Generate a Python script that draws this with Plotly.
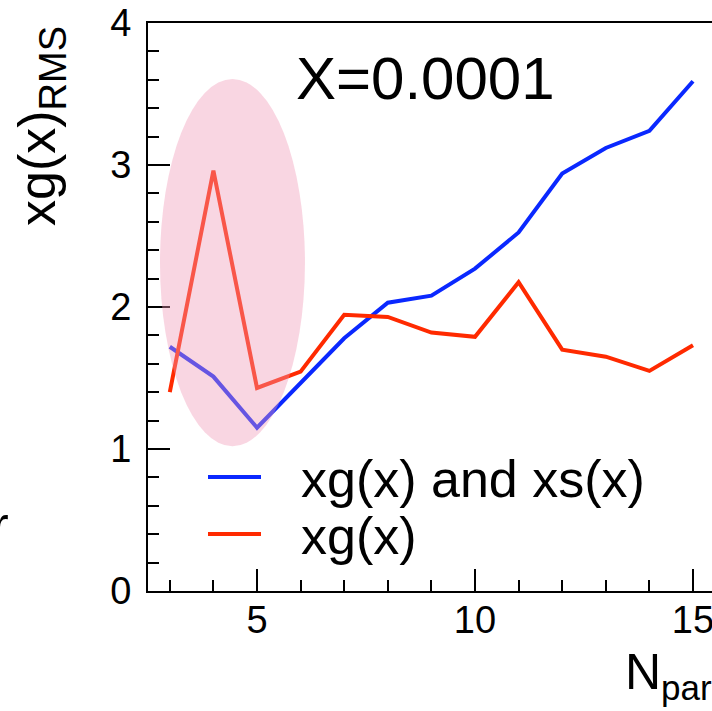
import plotly.graph_objects as go

# ---- data ----
n_param = [3, 4, 5, 6, 7, 8, 9, 10, 11, 12, 13, 14, 15]
xg_and_xs = [1.72, 1.51, 1.15, 1.47, 1.78, 2.03, 2.08, 2.27, 2.525, 2.94, 3.12, 3.24, 3.59]
xg_only = [1.40, 2.96, 1.43, 1.545, 1.945, 1.93, 1.82, 1.79, 2.175, 1.70, 1.65, 1.55, 1.73]
series_names = ["xg(x) and xs(x)", "xg(x)"]
x_tick_vals = [5, 10, 15]
y_tick_vals = [0, 1, 2, 3, 4]

BLUE = "#0a28ff"
RED = "#ff2a00"
FONT = "Liberation Sans"

W, H = 712, 711
L, R, T, B = 148, 0, 23, 120
PW, PH = W - L - R, H - T - B


def fx(px):  # page pixel -> paper
    return (px - L) / PW


def fy(py):
    return (H - B - py) / PH


fig = go.Figure()
fig.add_trace(go.Scatter(x=n_param, y=xg_and_xs, mode="lines", name=series_names[0],
                         line=dict(color=BLUE, width=4), showlegend=False))
fig.add_trace(go.Scatter(x=n_param, y=xg_only, mode="lines", name=series_names[1],
                         line=dict(color=RED, width=4), showlegend=False))

# highlight ellipse
fig.add_shape(type="circle", xref="x", yref="y", x0=2.775, x1=6.10, y0=1.02, y1=3.605,
              fillcolor="rgb(240,152,182)", opacity=0.4, line=dict(width=0), layer="above")

# legend (manual, ROOT-style)
for i, (name, col) in enumerate(zip(series_names, [BLUE, RED])):
    py = 477 + 57 * i
    fig.add_shape(type="line", xref="paper", yref="paper", x0=fx(208), x1=fx(261),
                  y0=fy(py), y1=fy(py), line=dict(color=col, width=4))
    fig.add_annotation(text=name, xref="paper", yref="paper", x=fx(299), y=fy(py + 2),
                       xanchor="left", yanchor="middle", showarrow=False,
                       font=dict(family=FONT, size=52, color="black"))

fig.add_annotation(text="X=0.0001", xref="paper", yref="paper", x=fx(294), y=fy(78),
                   xanchor="left", yanchor="middle", showarrow=False,
                   font=dict(family=FONT, size=60, color="black"))

fig.add_annotation(text="xg(x)<sub><span style='font-size:38px'>RMS</span></sub>",
                   xref="paper", yref="paper", x=fx(41), y=fy(126),
                   xanchor="center", yanchor="middle", textangle=-90, showarrow=False,
                   font=dict(family=FONT, size=52, color="black"))

fig.add_annotation(text="N<sub>param</sub>", xref="paper", yref="paper", x=fx(623), y=fy(675),
                   xanchor="left", yanchor="middle", showarrow=False,
                   font=dict(family=FONT, size=50, color="black"))

fig.add_annotation(text="r", xref="paper", yref="paper", x=fx(11), y=fy(525),
                   xanchor="right", yanchor="middle", showarrow=False,
                   font=dict(family=FONT, size=50, color="black"))

fig.update_layout(
    width=W, height=H,
    margin=dict(l=L, r=R, t=T, b=B, autoexpand=False),
    paper_bgcolor="white", plot_bgcolor="white",
    showlegend=False,
    font=dict(family=FONT, color="black"),
    xaxis=dict(range=[2.5, 2.5 + PW / 43.6], tickvals=x_tick_vals,
               ticks="inside", ticklen=22, tickwidth=2, tickcolor="black",
               minor=dict(dtick=1, tick0=0, ticks="inside", ticklen=11, tickwidth=2, tickcolor="black"),
               showline=True, linewidth=2, linecolor="black", mirror=True,
               showgrid=False, zeroline=False, tickfont=dict(family=FONT, size=38),
               ticklabelstandoff=-6, ticklabeloverflow="allow", automargin=False),
    yaxis=dict(range=[0, 4], tickvals=y_tick_vals,
               ticks="inside", ticklen=22, tickwidth=2, tickcolor="black",
               minor=dict(dtick=0.2, tick0=0, ticks="inside", ticklen=11, tickwidth=2, tickcolor="black"),
               showline=True, linewidth=2, linecolor="black",
               showgrid=False, zeroline=False, tickfont=dict(family=FONT, size=38),
               ticklabelstandoff=7, ticklabeloverflow="allow", automargin=False),
)

fig.write_html("out.html", config={"displayModeBar": False},
               post_script="document.body.style.margin='0px';")
